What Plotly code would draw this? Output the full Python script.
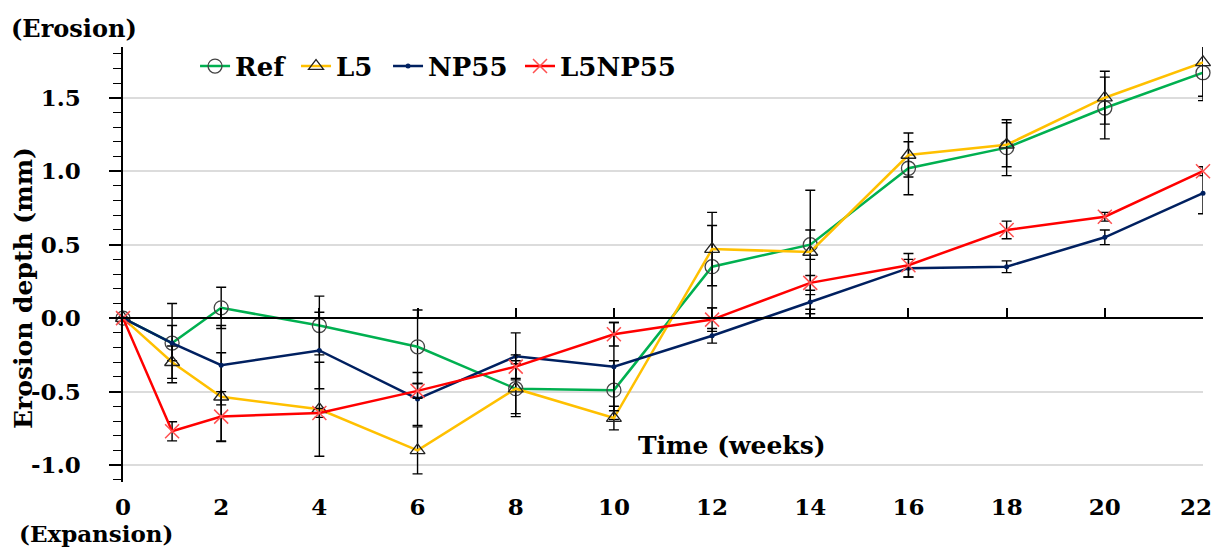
import plotly.graph_objects as go

weeks = [0, 1, 2, 4, 6, 8, 10, 12, 14, 16, 18, 20, 22]
x_tick_vals = [0, 2, 4, 6, 8, 10, 12, 14, 16, 18, 20, 22]
x_tick_text = ["0", "2", "4", "6", "8", "10", "12", "14", "16", "18", "20", "22"]
y_tick_vals = [-1.0, -0.5, 0.0, 0.5, 1.0, 1.5]
y_tick_text = ["-1.0", "-0.5", "0.0", "0.5", "1.0", "1.5"]

ref = [0.0, -0.17, 0.07, -0.05, -0.195, -0.48, -0.49, 0.35, 0.50, 1.02, 1.16, 1.43, 1.67]
ref_err = [0.0, 0.12, 0.14, 0.20, 0.25, 0.17, 0.20, 0.28, 0.10, 0.18, 0.19, 0.21, 0.19]

l5 = [0.0, -0.30, -0.535, -0.62, -0.90, -0.48, -0.68, 0.47, 0.45, 1.11, 1.18, 1.50, 1.74]
l5_err = [0.0, 0.11, 0.30, 0.32, 0.16, 0.19, 0.08, 0.25, 0.42, 0.15, 0.15, 0.18, 0.23]

np55 = [0.0, -0.17, -0.32, -0.22, -0.55, -0.26, -0.33, -0.12, 0.11, 0.34, 0.35, 0.55, 0.85]
np55_err = [0.0, 0.27, 0.27, 0.26, 0.18, 0.16, 0.30, 0.05, 0.05, 0.06, 0.04, 0.05, 0.14]

l5np55 = [0.0, -0.77, -0.67, -0.645, -0.495, -0.33, -0.11, -0.01, 0.24, 0.36, 0.60, 0.69, 1.00]
l5np55_err = [0.0, 0.065, 0.17, 0.03, 0.05, 0.08, 0.08, 0.08, 0.05, 0.08, 0.06, 0.03, 0.03]

FONT = "DejaVu Serif"
ERR = dict(type="data", visible=True, color="black", thickness=1.4, width=5)
LEG_FONT = dict(family=FONT, size=26, color="black", weight="bold")
XTICK_FONT = dict(family=FONT, size=23, color="black", weight="bold")

fig = go.Figure()

def add(name, y, err, line_color, marker, legend):
    e = dict(ERR)
    e["array"] = err
    fig.add_trace(go.Scatter(
        x=weeks, y=y, name=name, mode="lines+markers",
        line=dict(color=line_color, width=2.5),
        marker=marker, error_y=e, cliponaxis=False, legend=legend,
    ))

add("Ref", ref, ref_err, "#00B050",
    dict(symbol="circle-open", size=14, color="#444444", line=dict(width=1.3)), "legend")
add("L5", l5, l5_err, "#FFC000",
    dict(symbol="triangle-up-open", size=13, color="#222222", line=dict(width=1.3)), "legend2")
add("NP55", np55, np55_err, "#002060",
    dict(symbol="circle", size=5, color="#002060"), "legend3")
add("L5NP55", l5np55, l5np55_err, "#FF0000",
    dict(symbol="x-thin-open", size=14, color="#FF5050", line=dict(width=1.5)), "legend4")

# empty traces so the overlaid axes (zero line, last tick label) are drawn
fig.add_trace(go.Scatter(x=[], y=[], xaxis="x2", showlegend=False, hoverinfo="skip"))
fig.add_trace(go.Scatter(x=[], y=[], xaxis="x3", showlegend=False, hoverinfo="skip"))

ymin, ymax = -1.115, 1.845
zero_pos = (0 - ymin) / (ymax - ymin)

def leg(xpos):
    return dict(orientation="h", x=xpos, y=0.956, xanchor="left", yanchor="middle",
                font=LEG_FONT, bgcolor="rgba(0,0,0,0)", itemwidth=30)

fig.update_layout(
    width=1216, height=550,
    margin=dict(l=123, r=13, t=47, b=68, autoexpand=False),
    paper_bgcolor="white", plot_bgcolor="white",
    showlegend=True,
    legend=leg(0.0667), legend2=leg(0.1602), legend3=leg(0.2454), legend4=leg(0.3676),
    xaxis=dict(range=[0, 22], tickmode="array", tickvals=x_tick_vals[:-1], ticktext=x_tick_text[:-1],
               showline=False, showgrid=False, zeroline=False, ticks="", automargin=False,
               ticklabelstandoff=9, tickfont=XTICK_FONT),
    xaxis3=dict(range=[0, 22], overlaying="x", anchor="y", side="bottom",
                tickmode="array", tickvals=x_tick_vals[-1:], ticktext=x_tick_text[-1:],
                showline=False, showgrid=False, zeroline=False, ticks="", automargin=False,
                ticklabelstandoff=9, ticklabelshift=-7, ticklabeloverflow="allow",
                tickfont=XTICK_FONT),
    xaxis2=dict(range=[0, 22], overlaying="x", anchor="free", position=zero_pos,
                tickmode="array", tickvals=x_tick_vals, ticks="inside", ticklen=9,
                tickwidth=1.5, tickcolor="black", showticklabels=False, automargin=False,
                showline=True, linecolor="black", linewidth=1.5,
                showgrid=False, zeroline=False),
    yaxis=dict(range=[ymin, ymax], tickmode="array", tickvals=y_tick_vals, ticktext=y_tick_text,
               ticks="outside", ticklen=12, tickwidth=1.5, tickcolor="black", automargin=False,
               showline=True, linecolor="black", linewidth=1.5,
               showgrid=True, gridcolor="#dcdcdc", gridwidth=1.5,
               zeroline=True, zerolinecolor="black", zerolinewidth=1.5,
               ticklabelstandoff=24,
               minor=dict(tickmode="linear", tick0=0, dtick=0.1, ticks="outside",
                          ticklen=8, tickwidth=1.2, tickcolor="black", showgrid=False),
               tickfont=dict(family=FONT, size=23, color="black", weight="bold")),
)

def ann(text, x, y, size, angle=0, yanchor="middle"):
    fig.add_annotation(text=text, xref="paper", yref="paper", x=x, y=y,
                       xanchor="center", yanchor=yanchor, showarrow=False,
                       textangle=angle,
                       font=dict(family=FONT, size=size, color="black", weight="bold"))

ann("(Erosion)", -0.0454, 1.0414, 24)
ann("(Expansion)", -0.025, -0.154, 23, yanchor="bottom")
ann("Time (weeks)", 0.564, 0.0828, 25)
ann("Erosion depth (mm)", -0.0917, 0.446, 25, angle=-90)

# remove the browser's default 8px body margin so the 1216x550 figure fills the window
fig.write_html("out.html", config={"displayModeBar": False},
               post_script="document.body.style.margin='0';")
